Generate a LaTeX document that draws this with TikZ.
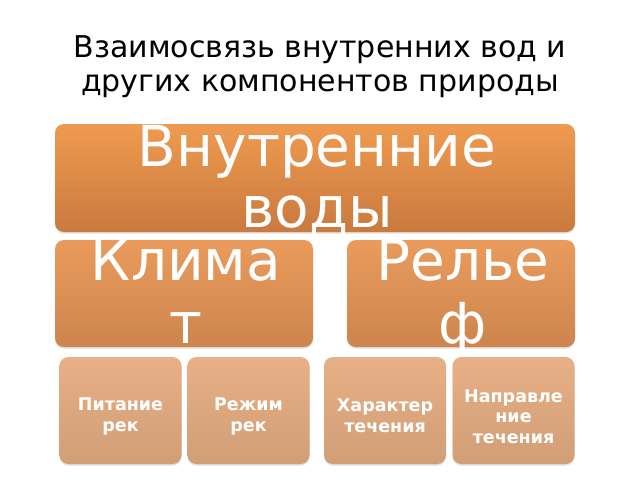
\documentclass[tikz,border=0pt]{standalone}
\usepackage{fontspec}
\setmainfont{DejaVu Sans}
\usetikzlibrary{shadows}
\definecolor{topA}{HTML}{EF9A50}
\definecolor{botA}{HTML}{C97A3E}
\definecolor{topB}{HTML}{EA9B5C}
\definecolor{botB}{HTML}{CD854D}
\definecolor{topC}{HTML}{E8B086}
\definecolor{botC}{HTML}{D19E76}
\tikzset{
  box/.style={rounded corners=9pt, inner sep=0pt, draw=none,
    drop shadow={shadow xshift=0pt, shadow yshift=-1.5pt, opacity=0.25}},
  boxA/.style={box, top color=topA, bottom color=botA},
  boxB/.style={box, top color=topB, bottom color=botB},
  boxC/.style={box, top color=topC, bottom color=botC},
  bigtext/.style={text=white, inner sep=0pt, align=center, anchor=base,
    font=\fontsize{56.5}{61}\selectfont},
  midtext/.style={text=white, inner sep=0pt, align=center, anchor=base,
    font=\fontsize{56.5}{63}\selectfont},
  smalltext/.style={text=white, inner sep=0pt, align=center,
    font=\fontsize{17.5}{20.5}\selectfont\bfseries},
  titletext/.style={text=black, inner sep=0pt, align=center, anchor=base,
    font=\fontsize{30}{34}\selectfont}
}
\begin{document}
\begin{tikzpicture}[x=1pt,y=-1pt]
\useasboundingbox[fill=white] (0,0) rectangle (640,480);
\node[titletext] (title) at (320,91) {Взаимосвязь внутренних вод и\\других компонентов природы};
\node[boxA, minimum width=520pt, minimum height=108pt] (vn) at (315,178) {};
\node[boxB, minimum width=258pt, minimum height=107pt] (kl) at (184,293.5) {};
\node[boxB, minimum width=228pt, minimum height=107pt] (rl) at (461,293.5) {};
\node[boxC, minimum width=122pt, minimum height=107pt] (b1) at (120.5,410.5) {};
\node[boxC, minimum width=122pt, minimum height=107pt] (b2) at (248.5,410.5) {};
\node[boxC, minimum width=122pt, minimum height=107pt] (b3) at (385,410.5) {};
\node[boxC, minimum width=122pt, minimum height=107pt] (b4) at (513.5,410.5) {};
\node[bigtext] (vnt) at (317,227) {Внутренние\\воды};
\node[midtext] (klt) at (186,343) {Клима\\т};
\node[midtext] (rlt) at (463,343) {Релье\\ф};
\node[smalltext] (b1t) at ([yshift=-6pt]b1.center) {Питание\\рек};
\node[smalltext] (b2t) at ([yshift=-6pt]b2.center) {Режим\\рек};
\node[smalltext] (b3t) at ([yshift=-5pt]b3.center) {Характер\\течения};
\node[smalltext] (b4t) at ([yshift=-6pt]b4.center) {Направле\\ние\\течения};
\end{tikzpicture}
\end{document}
